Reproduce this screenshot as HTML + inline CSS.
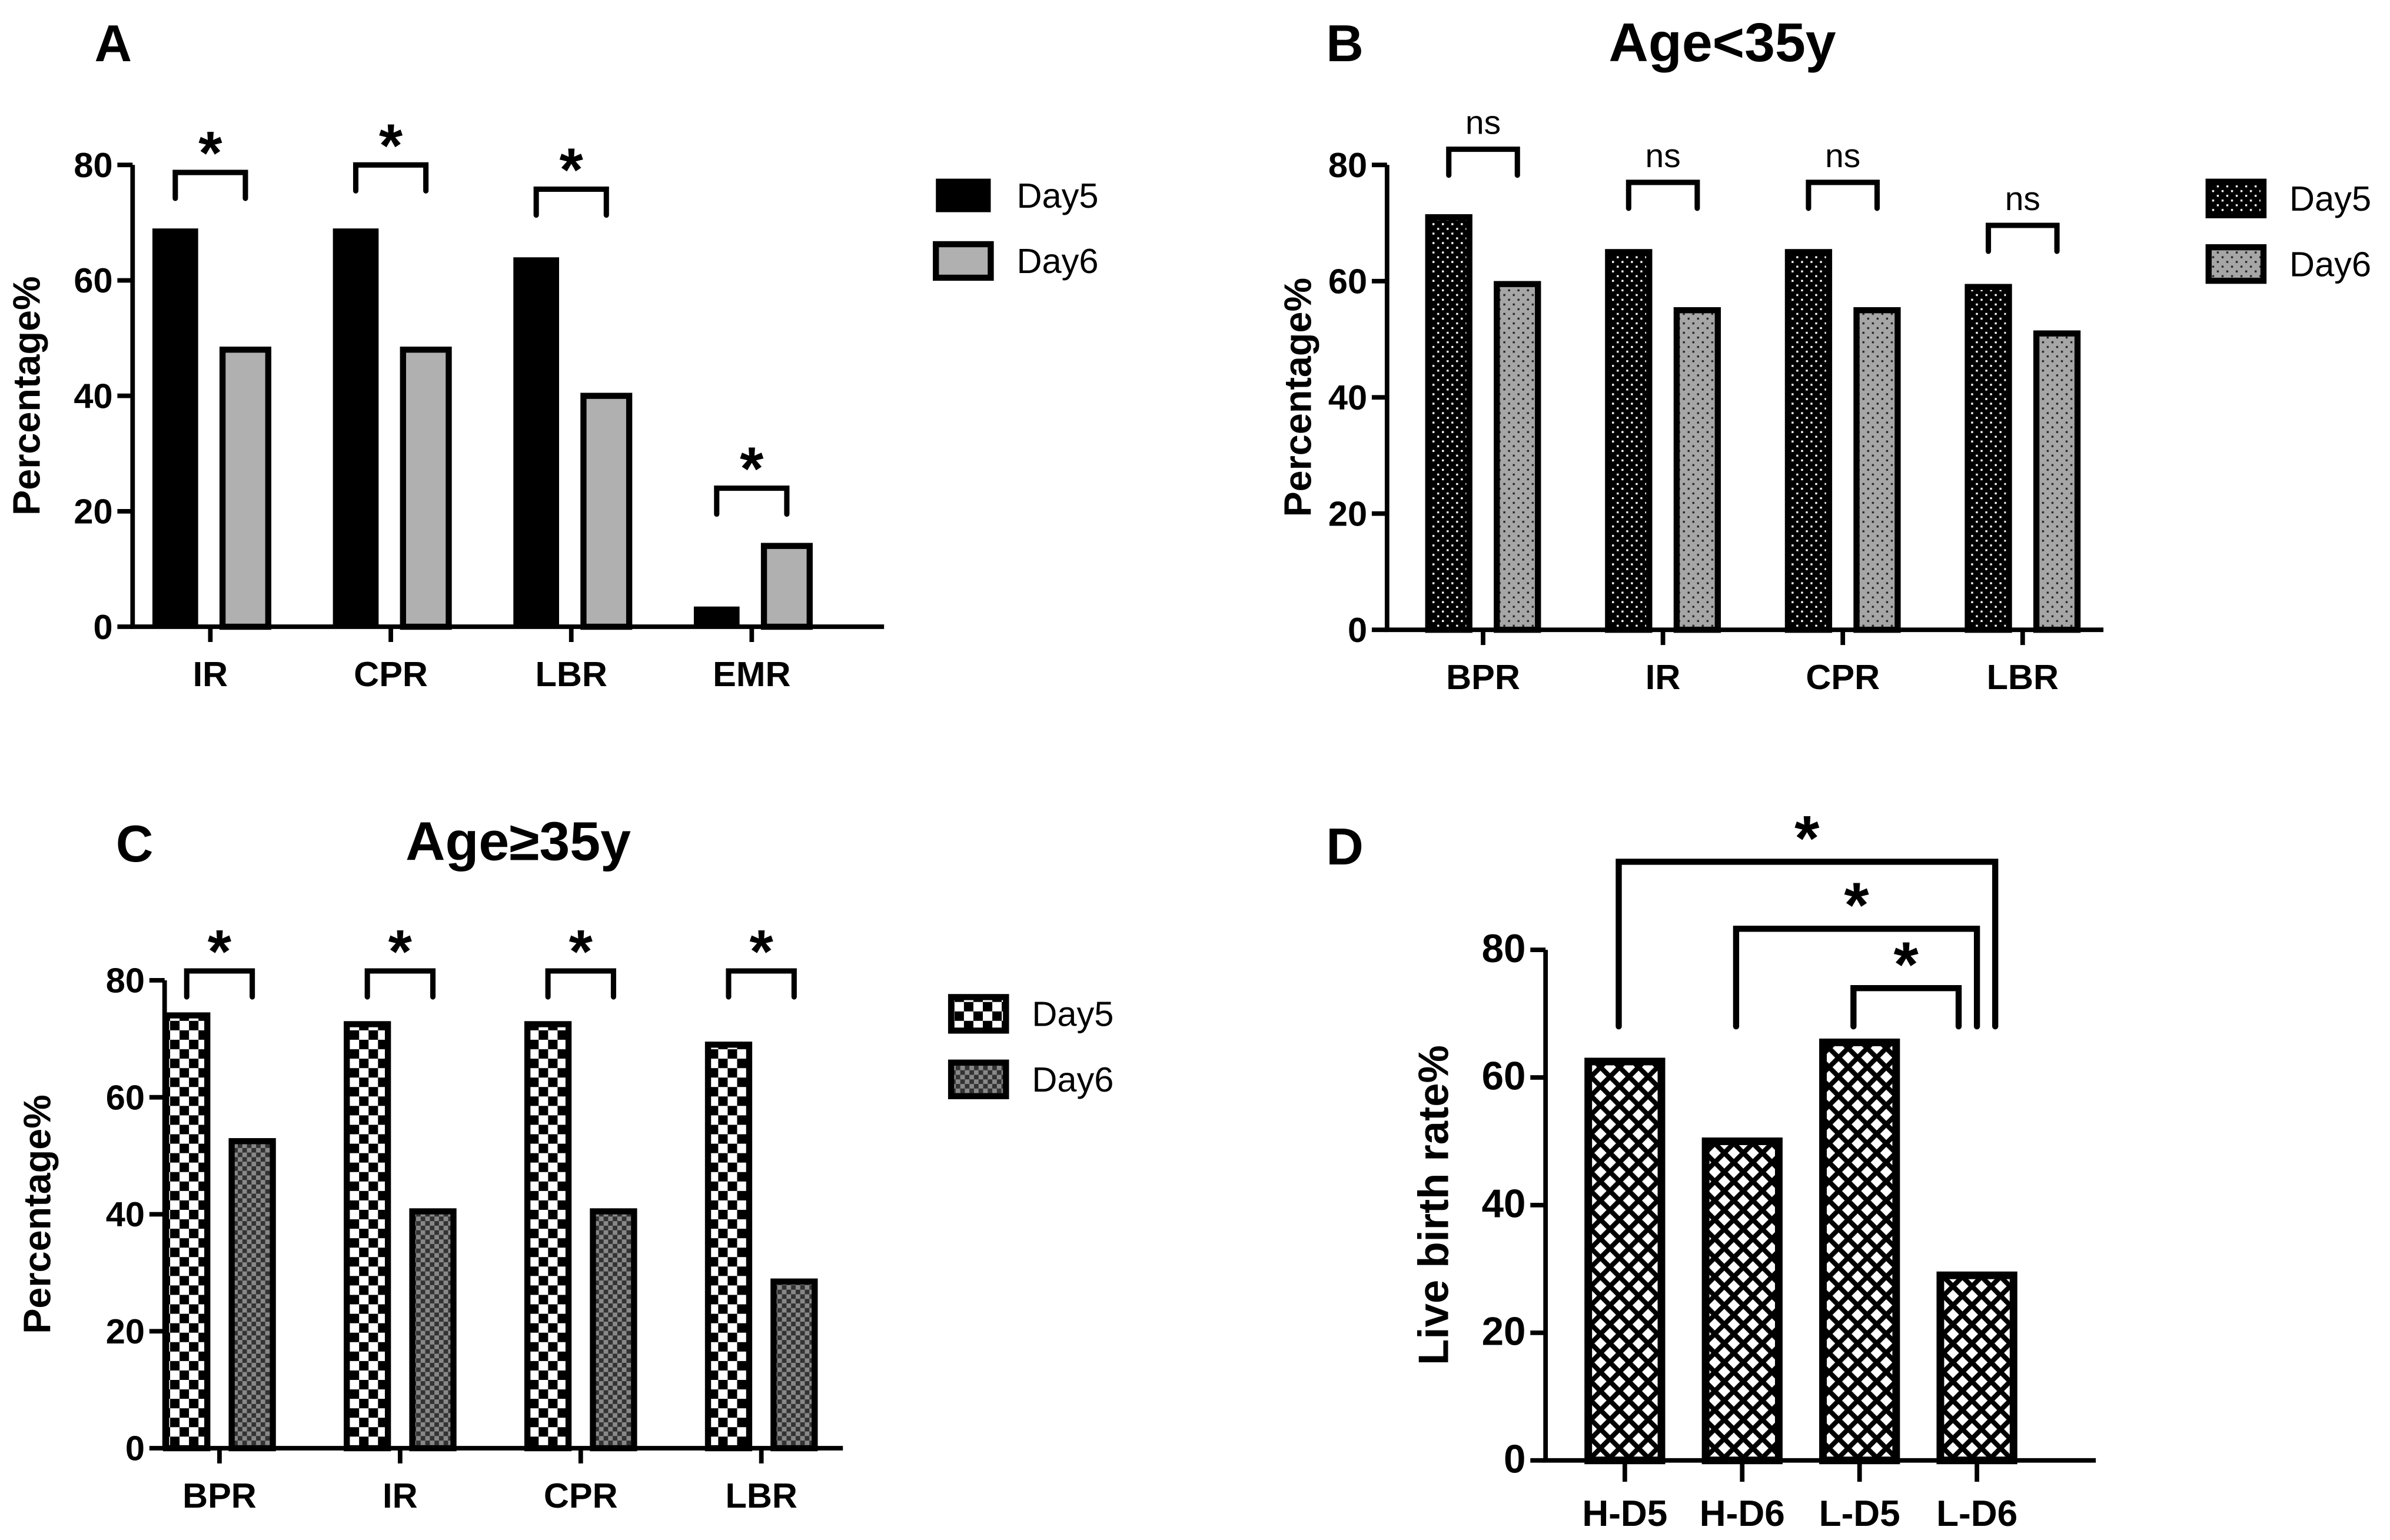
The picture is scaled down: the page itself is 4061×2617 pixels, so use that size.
<!DOCTYPE html>
<html><head><meta charset="utf-8"><style>
html,body{margin:0;padding:0;background:#fff;}
svg{display:block;}
text{font-family:"Liberation Sans Narrow","Liberation Sans",sans-serif;font-weight:bold;fill:#000;}
.lbl{font-family:"Liberation Sans",sans-serif;font-weight:bold;}
</style></head><body>
<svg id="fig" width="4061" height="2617" viewBox="0 0 1568 1010" xmlns="http://www.w3.org/2000/svg">
<defs>
<pattern id="pDotDark" width="6.2" height="6.2" patternUnits="userSpaceOnUse"><rect width="6.2" height="6.2" fill="#000"/><rect x="0.5" y="0.5" width="1.3" height="1.3" fill="#fff"/><rect x="3.6" y="3.6" width="1.3" height="1.3" fill="#fff"/></pattern>
<pattern id="pDotGray" width="6.2" height="6.2" patternUnits="userSpaceOnUse"><rect width="6.2" height="6.2" fill="#a6a6a6"/><rect x="0.5" y="0.5" width="1.3" height="1.3" fill="#222"/><rect x="3.6" y="3.6" width="1.3" height="1.3" fill="#222"/></pattern>
<pattern id="pChk" width="12.4" height="12.4" patternUnits="userSpaceOnUse"><rect width="12.4" height="12.4" fill="#fff"/><rect width="6.2" height="6.2" fill="#000"/><rect x="6.2" y="6.2" width="6.2" height="6.2" fill="#000"/></pattern>
<pattern id="pChkGray" width="6" height="6" patternUnits="userSpaceOnUse"><rect width="6" height="6" fill="#888"/><rect width="3" height="3" fill="#333"/><rect x="3" y="3" width="3" height="3" fill="#333"/></pattern>
<pattern id="pHatch" width="12.5" height="12.5" patternUnits="userSpaceOnUse"><rect width="12.5" height="12.5" fill="#fff"/><path d="M0 0L12.5 12.5M12.5 0L0 12.5" stroke="#000" stroke-width="3.2"/></pattern>
<pattern id="pGray" width="4" height="4" patternUnits="userSpaceOnUse"><rect width="4" height="4" fill="#b0b0b0"/></pattern>
</defs>
</svg>
<script>
const catsA=['IR','CPR','LBR','EMR'];
const d5A=[69,69,64,3.5];
const d6A=[48,48,40,14];
const brA=[78.7,80,75.8,24];
const catsB=['BPR','IR','CPR','LBR'];
const d5B=[71,65,65,59];
const d6B=[59.5,55,55,51];
const brB=[82.7,77,77,69.6];
const catsC=['BPR','IR','CPR','LBR'];
const d5C=[74,72.5,72.5,69];
const d6C=[52.5,40.5,40.5,28.5];
const brC=[81.6,81.6,81.6,81.6];
const catsD=['H-D5','H-D6','L-D5','L-D6'];
const valsD=[62.5,50,65.5,29];
const yTicks=[0,20,40,60,80];
const series=['Day5','Day6'];

const svg=document.getElementById('fig');
const NS='http://www.w3.org/2000/svg';
function mk(tag,at,parent){const e=document.createElementNS(NS,tag);for(const k in at)e.setAttribute(k,at[k]);(parent||svg).appendChild(e);return e;}
function txt(s,at,parent){const e=mk('text',at,parent);e.textContent=s;return e;}

function axes(g,P,ylabel,fs){
  const y=v=>P.yBot-(P.yBot-P.yTop)*v/80;
  const ax=mk('path',{d:`M${P.x0} ${P.yTop}V${P.yBot}H${P.xEnd}`,stroke:'#000','stroke-width':3,fill:'none'},g);
  
  
  yTicks.forEach(t=>{
    mk('line',{x1:P.x0-10,x2:P.x0,y1:y(t),y2:y(t),stroke:'#000','stroke-width':3},g);
    const tl=txt(String(t),{x:P.x0-13,y:y(t)+8,'font-size':fs,'text-anchor':'end'},g);
    
    
  });
  const yl=txt(ylabel,{x:0,y:0,'font-size':fs+2,'text-anchor':'middle',class:'lbl',transform:`translate(${P.ylx},${(P.yTop+P.yBot)/2}) rotate(-90)`},g);
  
  
  return y;
}

function grouped(name,P,cats,d5,d6,br,fills,mark,ylabel){
  const g=mk('g',{});
  
  
  const y=axes(g,P,ylabel,23);
  const cx=i=>P.c0+P.step*i;
  cats.forEach((c,i)=>{
    mk('line',{x1:cx(i),x2:cx(i),y1:P.yBot,y2:P.yBot+10,stroke:'#000','stroke-width':3},g);
    const cl=txt(c,{x:cx(i),y:P.yBot+39,'font-size':23,'text-anchor':'middle',class:'lbl'},g);
    
    
    [d5[i],d6[i]].forEach((v,s)=>{
      const bx=cx(i)+(s?P.off:-P.off)-P.w/2;
      const r=mk('rect',{x:bx,y:y(v),width:P.w,height:P.yBot-y(v),fill:fills[s],stroke:P.noStroke&&s===0?'none':'#000','stroke-width':4},g);
      
      
    });
    const x1=cx(i)-P.off,x2=cx(i)+P.off,by=y(br[i]);
    const b=mk('path',{d:`M${x1} ${by+17}V${by}H${x2}V${by+17}`,stroke:'#000','stroke-width':3.5,fill:'none','stroke-linecap':'round'},g);
    
    
    const st=txt(mark,mark==='*'?{x:(x1+x2)/2,y:by+1,'font-size':40,'text-anchor':'middle',class:'lbl'}:{x:(x1+x2)/2,y:by-10,'font-size':22,'text-anchor':'middle',style:'font-weight:normal;font-family:Liberation Sans,sans-serif'},g);
    
    
  });
  series.forEach((s,k)=>{
    const lg=mk('g',{},g);
    
    
    mk('rect',{x:P.lx,y:P.ly+k*43,width:36,height:22,fill:fills[k],stroke:P.noStroke&&k===0?'none':'#000','stroke-width':4},lg);
    txt(s,{x:P.lx+53,y:P.ly+k*43+19,'font-size':23,style:'font-weight:normal'},lg);
  });
}

function panelLetter(l,x,y){const t=txt(l,{x:x,y:y,'font-size':34,class:'lbl'});}
function title(s,x,y){const t=txt(s,{x:x,y:y,'font-size':36,'text-anchor':'middle',class:'lbl'});}

panelLetter('A',62,40);
grouped('panel-a-chart',{x0:87,xEnd:580,yTop:108,yBot:411,c0:138,step:118.4,off:23,w:30,lx:614,ly:117,ylx:26,noStroke:true},catsA,d5A,d6A,brA,['#000','url(#pGray)'],'*','Percentage%');
panelLetter('B',870,40);title('Age<35y',1130,40);
grouped('panel-b-chart',{x0:910,xEnd:1380,yTop:108,yBot:413,c0:973,step:118,off:22.5,w:27,lx:1449,ly:119,ylx:860},catsB,d5B,d6B,brB,['url(#pDotDark)','url(#pDotGray)'],'ns','Percentage%');
panelLetter('C',76,565);title('Age≥35y',340,564);
grouped('panel-c-chart',{x0:108,xEnd:553,yTop:643,yBot:950,c0:144,step:118.5,off:21.5,w:27,lx:624,ly:654,ylx:33},catsC,d5C,d6C,brC,['url(#pChk)','url(#pChkGray)'],'*','Percentage%');

panelLetter('D',870,567);
(function(){
  const P={x0:1014,xEnd:1375,yTop:623,yBot:958,c0:1066,step:77,w:48,ylx:950};
  const g=mk('g',{});
  
  
  const y=axes(g,P,'Live birth rate%',26);
  const cx=i=>P.c0+P.step*i;
  catsD.forEach((c,i)=>{
    mk('line',{x1:cx(i),x2:cx(i),y1:P.yBot,y2:P.yBot+14,stroke:'#000','stroke-width':3},g);
    const cl=txt(c,{x:cx(i),y:P.yBot+43,'font-size':24,'text-anchor':'middle',class:'lbl'},g);
    
    
    const r=mk('rect',{x:cx(i)-P.w/2,y:y(valsD[i]),width:P.w,height:P.yBot-y(valsD[i]),fill:'url(#pHatch)',stroke:'#000','stroke-width':5},g);
    
    
  });
  const br=[[0,3,93.8,-6],[1,3,83.3,0],[2,3,74,6]];
  br.forEach(b=>{
    const x1=cx(b[0])-4,x2=cx(b[1])+(b[3]===-6?12:b[3]===0?0:-12),by=y(b[2]),bot=y(68);
    const p=mk('path',{d:`M${x1} ${bot}V${by}H${x2}V${bot}`,stroke:'#000','stroke-width':4,fill:'none','stroke-linecap':'round'},g);
    
    
    const s=txt('*',{x:(x1+x2)/2,y:by-1,'font-size':42,'text-anchor':'middle',class:'lbl'},g);
    
    
  });
})();
</script>
</body></html>
